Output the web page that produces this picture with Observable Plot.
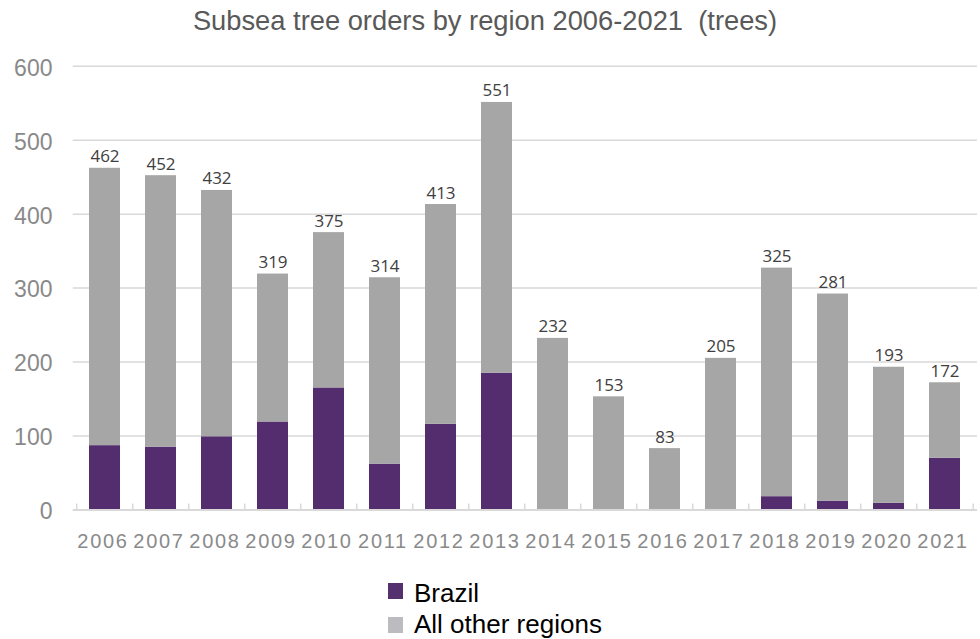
<!DOCTYPE html>
<html>
<head>
<meta charset="utf-8">
<script src="https://cdn.jsdelivr.net/npm/d3@7"></script>
<script src="https://cdn.jsdelivr.net/npm/@observablehq/plot@0.6"></script>
<style>
  html, body { margin: 0; padding: 0; background: #fff; }
  #wrap { position: relative; width: 980px; height: 639px; overflow: hidden; background: #fff; }
  #title { position: absolute; left: 0; top: 5px; width: 970px; text-align: center;
           font-family: "Liberation Sans", Arial, sans-serif; font-size: 27.3px; line-height: 32px;
           color: #595959; white-space: pre; }
  #chart { position: absolute; left: 0; top: 45px; }
  .leg { position: absolute; left: 388px; font-family: "Liberation Sans", Arial, sans-serif;
         font-size: 26px; line-height: 30px; color: #000; white-space: pre; }
  .sw { position: absolute; width: 15px; height: 16px; }
  g[aria-label="x-axis tick label"] text { letter-spacing: 1.7px; }
</style>
</head>
<body>
<div id="wrap">
  <div id="title">Subsea tree orders by region 2006-2021  (trees)</div>
  <div id="chart"></div>
  <div id="legend"></div>
</div>
<script>
const years = ["2006","2007","2008","2009","2010","2011","2012","2013","2014","2015","2016","2017","2018","2019","2020","2021"];
const brazil = [87, 85, 99, 119, 165, 62, 116, 185, 0, 0, 0, 0, 18, 12, 9, 70];
const other  = [375, 367, 333, 200, 210, 252, 297, 366, 232, 153, 83, 205, 309, 280, 184, 102];
const totalLabels = [462, 452, 432, 319, 375, 314, 413, 551, 232, 153, 83, 205, 325, 281, 193, 172];
const regions = ["Brazil", "All other regions"];
const barColors = ["#532D6D", "#A6A6A6"];
const legendColors = ["#54306E", "#BCBCC0"];
const yTicks = [0, 100, 200, 300, 400, 500, 600];

const rows = years.flatMap((y, i) => [
  {year: y, region: regions[0], value: brazil[i]},
  {year: y, region: regions[1], value: other[i]}
]);
const labelRows = years.map((y, i) => ({year: y, top: brazil[i] + other[i], label: totalLabels[i]}));

const W = 980, H = 515, ML = 72.7, MR = 3, MT = 20.7, MB = 50.5;
const step = (W - ML - MR) / years.length;

const chart = Plot.plot({
  width: W, height: H,
  marginTop: MT, marginBottom: MB, marginLeft: ML, marginRight: MR,
  style: {fontFamily: "'Liberation Sans', Arial, sans-serif", background: "white", overflow: "visible"},
  x: {type: "band", domain: years, paddingInner: 0.44, paddingOuter: 0.22, label: null},
  y: {domain: [0, 600], label: null},
  color: {domain: regions, range: barColors},
  marks: [
    Plot.ruleY(yTicks.filter(d => d > 0), {stroke: "#D9D9D9", strokeWidth: 1.5}),
    Plot.barY(rows, {x: "year", y: "value", fill: "region", order: regions}),
    Plot.ruleY([0], {stroke: "#D9D9D9", strokeWidth: 2}),
    Plot.ruleX(years, {x: d => d, y1: 0, y2: 8, dx: -step / 2, stroke: "#D9D9D9", strokeWidth: 1.5}),
    Plot.ruleX([years[years.length - 1]], {x: d => d, y1: 0, y2: 8, dx: step / 2, stroke: "#D9D9D9", strokeWidth: 1.5}),
    Plot.text(labelRows, {x: "year", y: "top", text: d => String(d.label), lineAnchor: "bottom", dy: -6,
      fontSize: 17, fill: "#404040", fontFamily: "'Open Sans', sans-serif"}),
    Plot.axisY({ticks: yTicks, tickSize: 0, tickPadding: 20.7, fontSize: 23, fill: "#898989", dy: 2, label: null}),
    Plot.axisX({tickSize: 0, tickPadding: 23.5, fontSize: 20, fill: "#8A8A8A", dx: -2, label: null})
  ]
});
document.getElementById("chart").appendChild(chart);

const legend = document.getElementById("legend");
const legTops = [577.5, 608.5];
const swTops = [583, 616.5];
regions.forEach((r, i) => {
  const sw = document.createElement("div");
  sw.className = "sw";
  sw.style.left = "388px";
  sw.style.top = swTops[i] + "px";
  sw.style.background = legendColors[i];
  legend.appendChild(sw);
  const t = document.createElement("div");
  t.className = "leg";
  t.style.left = "414px";
  t.style.top = legTops[i] + "px";
  t.textContent = r;
  legend.appendChild(t);
});
</script>
</body>
</html>
